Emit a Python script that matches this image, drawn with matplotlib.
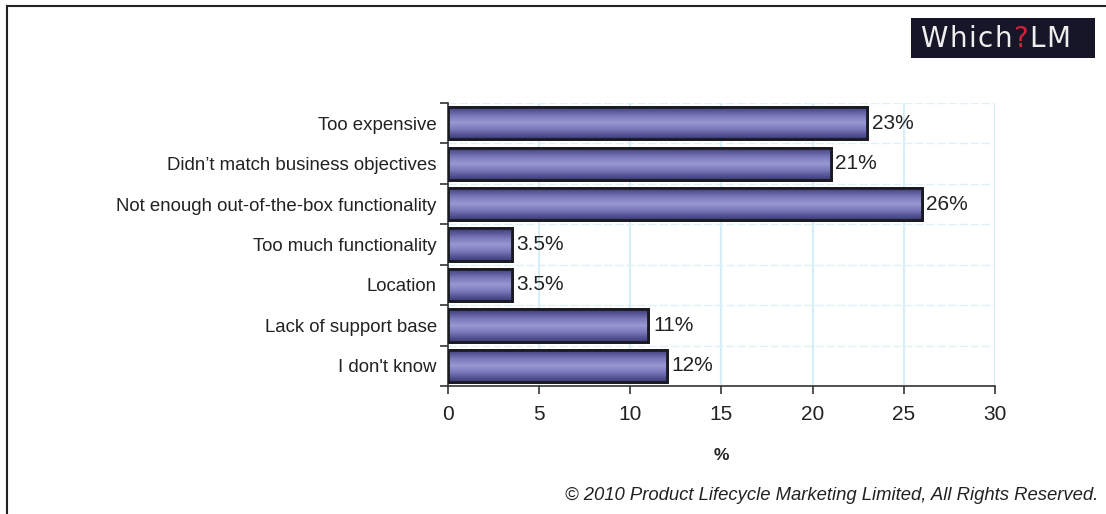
import numpy as np
import matplotlib
matplotlib.use('Agg')
from matplotlib import pyplot as plt
from matplotlib.colors import LinearSegmentedColormap
from matplotlib.lines import Line2D

plt.rcParams['font.family'] = ['Liberation Sans', 'DejaVu Sans']

# data
categories = ['Too expensive', 'Didn\u2019t match business objectives',
              'Not enough out-of-the-box functionality', 'Too much functionality',
              'Location', 'Lack of support base', "I don't know"]
values = [23, 21, 26, 3.5, 3.5, 11, 12]
value_labels = ['23%', '21%', '26%', '3.5%', '3.5%', '11%', '12%']
x_ticks = [0, 5, 10, 15, 20, 25, 30]

fig = plt.figure(figsize=(11.06, 5.14), dpi=100)
ax = fig.add_axes([0.405, 0.249, 0.4945, 0.5505])

y = np.arange(len(categories))
bars = ax.barh(y, values, height=0.8, color='#8080c0', edgecolor='#1a1a22',
               linewidth=2, zorder=3)

# vertical shading on each bar: dark edges, light middle
shade = LinearSegmentedColormap.from_list(
    'shade', [(0, '#3a3a78'), (0.3, '#7a7abc'), (0.5, '#9898d2'), (0.7, '#7a7abc'), (1, '#3a3a78')])
grad = np.linspace(0, 1, 64).reshape(-1, 1)
for b in bars:
    bb = b.get_bbox()
    im = ax.imshow(grad, cmap=shade, aspect='auto', zorder=3.5,
                   extent=[bb.x0, bb.x1, bb.y1, bb.y0])
    im.set_clip_path(b)
    ax.barh(b.get_y() + b.get_height() / 2, b.get_width(), height=b.get_height(),
            fill=False, edgecolor='#1a1a22', linewidth=2, zorder=4)

for yi, v, lab in zip(y, values, value_labels):
    ax.text(v + 0.25, yi, lab, va='center', ha='left', fontsize=15, color='#222222', zorder=5)

ax.set_xlim(0, 30)
ax.set_ylim(len(categories) - 0.5, -0.5)
ax.set_xticks(x_ticks)
ax.set_xticklabels([str(t) for t in x_ticks], fontsize=15, color='#222222')
ax.set_xlabel('%', fontsize=12.5, fontweight='bold', color='#222222', labelpad=17)

# category labels centred on bars, tick marks between bars
ax.set_yticks(np.arange(-0.5, len(categories)), minor=False)
ax.set_yticklabels([])
ax.set_yticks(y, minor=True)
ax.set_yticklabels(categories, minor=True, fontsize=13.4, color='#222222')
ax.tick_params(axis='y', which='minor', length=0, pad=8)
ax.tick_params(axis='y', which='major', length=6, width=1.2, color='#333333')
ax.tick_params(axis='x', length=6, width=1.2, color='#333333', pad=8)

ax.grid(axis='x', color='#d6eef6', linewidth=1.6, zorder=0)
ax.grid(axis='y', which='major', color='#e0f0f6', linewidth=1.0, linestyle=(0, (6, 2)), zorder=0)

for s in ['top', 'right']:
    ax.spines[s].set_visible(False)
ax.spines['left'].set_color('#333333')
ax.spines['bottom'].set_color('#333333')
ax.spines['left'].set_linewidth(1.2)
ax.spines['bottom'].set_linewidth(1.2)

# outer frame (left and top edges)
fig.add_artist(Line2D([7 / 1106, 7 / 1106], [0, 1 - 6 / 514], color='#222222', linewidth=1.5))
fig.add_artist(Line2D([7 / 1106, 1], [1 - 6 / 514, 1 - 6 / 514], color='#222222', linewidth=1.5))

# logo
logo = fig.add_axes([911 / 1106, 1 - 58 / 514, 184 / 1106, 40 / 514])
logo.set_facecolor('#161628')
logo.set_xticks([])
logo.set_yticks([])
for s in logo.spines.values():
    s.set_visible(False)
logo_chars = ['W', 'h', 'i', 'c', 'h', '?', 'L', 'M']
logo_colors = ['#eeeeee'] * 5 + ['#d0203c'] + ['#eeeeee'] * 2
fig.canvas.draw()
r = fig.canvas.get_renderer()
xpos = 0.05
for ch, c in zip(logo_chars, logo_colors):
    t = logo.text(xpos, 0.47, ch, color=c, fontsize=20, va='center', ha='left',
                  family=['DejaVu Sans'], transform=logo.transAxes)
    bb = t.get_window_extent(r).transformed(logo.transAxes.inverted())
    xpos = bb.x1 + 1.5 / 184

fig.text(1098 / 1106, 1 - 496 / 514, '\u00a9 2010 Product Lifecycle Marketing Limited, All Rights Reserved.',
         ha='right', va='center', fontsize=13.3, style='italic', color='#222222')

fig.savefig('out.png', dpi=100, facecolor='white')
